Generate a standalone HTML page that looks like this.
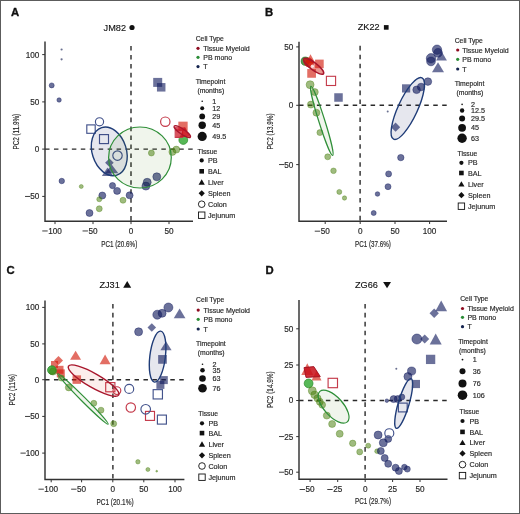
<!DOCTYPE html>
<html><head><meta charset="utf-8"><style>
html,body{margin:0;padding:0;background:#fff;}
body{width:520px;height:514px;overflow:hidden;}
svg{display:block;font-family:"Liberation Sans", sans-serif;will-change:transform;}
</style></head><body>
<svg width="520" height="514" viewBox="0 0 520 514">
<rect x="0" y="0" width="520" height="514" fill="#fff"/>
<text x="11.1" y="16.1" font-size="11.3" font-weight="bold" fill="#111" stroke="#111" stroke-width="0.35">A</text>
<text x="265.1" y="16.1" font-size="11.3" font-weight="bold" fill="#111" stroke="#111" stroke-width="0.35">B</text>
<text x="6.6" y="274.1" font-size="11.3" font-weight="bold" fill="#111" stroke="#111" stroke-width="0.35">C</text>
<text x="265.6" y="273.8" font-size="11.3" font-weight="bold" fill="#111" stroke="#111" stroke-width="0.35">D</text>
<text x="103.6" y="30.6" font-size="9.2" fill="#111" stroke="#111" stroke-width="0.12">JM82</text>
<circle cx="132" cy="27.5" r="2.6" fill="#111"/>
<text x="357.7" y="30.4" font-size="9.2" fill="#111" stroke="#111" stroke-width="0.12">ZK22</text>
<rect x="383.9" y="25.1" width="4.7" height="4.6" fill="#111"/>
<text x="99.4" y="287.7" font-size="9.2" fill="#111" stroke="#111" stroke-width="0.12">ZJ31</text>
<polygon points="127.2,281.1 131.2,287.7 123.2,287.7" fill="#111"/>
<text x="355" y="287.7" font-size="9.2" fill="#111" stroke="#111" stroke-width="0.12">ZG66</text>
<polygon points="383.1,281.9 391,281.9 387.05,288.2" fill="#111"/>
<line x1="131" y1="46" x2="131" y2="221.3" stroke="#2a2a2a" stroke-width="1.4" stroke-dasharray="4.6 4.35"/>
<line x1="45" y1="149.1" x2="193" y2="149.1" stroke="#2a2a2a" stroke-width="1.4" stroke-dasharray="4.5 4.45"/>
<path d="M45,41.5 V221.3 H193" fill="none" stroke="#333333" stroke-width="1.45"/>
<line x1="42.2" y1="54.6" x2="45" y2="54.6" stroke="#333333" stroke-width="1"/>
<text x="39.3" y="57.54" font-size="8.2" text-anchor="end" fill="#2b2b2b" stroke="#2b2b2b" stroke-width="0.18" >100</text>
<line x1="42.2" y1="101.9" x2="45" y2="101.9" stroke="#333333" stroke-width="1"/>
<text x="39.3" y="104.84" font-size="8.2" text-anchor="end" fill="#2b2b2b" stroke="#2b2b2b" stroke-width="0.18" >50</text>
<line x1="42.2" y1="149.1" x2="45" y2="149.1" stroke="#333333" stroke-width="1"/>
<text x="39.3" y="152.04" font-size="8.2" text-anchor="end" fill="#2b2b2b" stroke="#2b2b2b" stroke-width="0.18" >0</text>
<line x1="42.2" y1="196.4" x2="45" y2="196.4" stroke="#333333" stroke-width="1"/>
<text x="39.3" y="199.34" font-size="8.2" text-anchor="end" fill="#2b2b2b" stroke="#2b2b2b" stroke-width="0.18" >50</text>
<rect x="25.03" y="195.95" width="5.3" height="0.9" fill="#2b2b2b"/>
<line x1="55" y1="221.3" x2="55" y2="224.10000000000002" stroke="#333333" stroke-width="1"/>
<text x="55" y="233.9" font-size="8.2" text-anchor="middle" fill="#2b2b2b" stroke="#2b2b2b" stroke-width="0.18" >100</text>
<rect x="42.26" y="230.51" width="5.4" height="0.9" fill="#2b2b2b"/>
<line x1="93" y1="221.3" x2="93" y2="224.10000000000002" stroke="#333333" stroke-width="1"/>
<text x="93" y="233.9" font-size="8.2" text-anchor="middle" fill="#2b2b2b" stroke="#2b2b2b" stroke-width="0.18" >50</text>
<rect x="82.54" y="230.51" width="5.4" height="0.9" fill="#2b2b2b"/>
<line x1="131" y1="221.3" x2="131" y2="224.10000000000002" stroke="#333333" stroke-width="1"/>
<text x="131" y="233.9" font-size="8.2" text-anchor="middle" fill="#2b2b2b" stroke="#2b2b2b" stroke-width="0.18" >0</text>
<line x1="169" y1="221.3" x2="169" y2="224.10000000000002" stroke="#333333" stroke-width="1"/>
<text x="169" y="233.9" font-size="8.2" text-anchor="middle" fill="#2b2b2b" stroke="#2b2b2b" stroke-width="0.18" >50</text>
<text x="119.3" y="246.6" font-size="8.2" text-anchor="middle" fill="#2b2b2b" stroke="#2b2b2b" stroke-width="0.18" textLength="36" lengthAdjust="spacingAndGlyphs">PC1 (20.6%)</text>
<text x="0" y="0" font-size="8.2" text-anchor="middle" fill="#2b2b2b" stroke="#2b2b2b" stroke-width="0.15" textLength="35.8" lengthAdjust="spacingAndGlyphs" transform="translate(18.8,131.7) rotate(-90)">PC2 (11.9%)</text>
<circle cx="61.6" cy="49.5" r="1.1" fill="#6a7090"/>
<circle cx="61.6" cy="59.3" r="1.1" fill="#6a7090"/>
<circle cx="51.7" cy="85.4" r="2.5" fill="#141e5f" fill-opacity="0.63" stroke="#141e5f" stroke-opacity="0.63" stroke-width="0.7"/>
<circle cx="59.1" cy="100" r="2.2" fill="#141e5f" fill-opacity="0.63" stroke="#141e5f" stroke-opacity="0.63" stroke-width="0.7"/>
<circle cx="61.75" cy="181" r="2.75" fill="#141e5f" fill-opacity="0.63" stroke="#141e5f" stroke-opacity="0.63" stroke-width="0.7"/>
<circle cx="112.5" cy="185.6" r="3.1" fill="#141e5f" fill-opacity="0.63" stroke="#141e5f" stroke-opacity="0.63" stroke-width="0.7"/>
<circle cx="117.1" cy="190.9" r="3.5" fill="#141e5f" fill-opacity="0.63" stroke="#141e5f" stroke-opacity="0.63" stroke-width="0.7"/>
<circle cx="102.3" cy="195.5" r="3.5" fill="#141e5f" fill-opacity="0.63" stroke="#141e5f" stroke-opacity="0.63" stroke-width="0.7"/>
<circle cx="129.6" cy="195.3" r="3.5" fill="#141e5f" fill-opacity="0.63" stroke="#141e5f" stroke-opacity="0.63" stroke-width="0.7"/>
<circle cx="89.5" cy="213" r="3.5" fill="#141e5f" fill-opacity="0.63" stroke="#141e5f" stroke-opacity="0.63" stroke-width="0.7"/>
<circle cx="147.2" cy="182.3" r="4" fill="#141e5f" fill-opacity="0.63" stroke="#141e5f" stroke-opacity="0.63" stroke-width="0.7"/>
<circle cx="145.9" cy="186.1" r="4" fill="#141e5f" fill-opacity="0.63" stroke="#141e5f" stroke-opacity="0.63" stroke-width="0.7"/>
<circle cx="156.8" cy="176.8" r="4" fill="#141e5f" fill-opacity="0.63" stroke="#141e5f" stroke-opacity="0.63" stroke-width="0.7"/>
<circle cx="81.25" cy="186.5" r="2" fill="#467d0a" fill-opacity="0.52" stroke="#467d0a" stroke-opacity="0.52" stroke-width="0.7"/>
<circle cx="99.25" cy="199.25" r="2.5" fill="#467d0a" fill-opacity="0.52" stroke="#467d0a" stroke-opacity="0.52" stroke-width="0.7"/>
<circle cx="123" cy="200.25" r="3" fill="#467d0a" fill-opacity="0.52" stroke="#467d0a" stroke-opacity="0.52" stroke-width="0.7"/>
<circle cx="99.25" cy="208.75" r="3" fill="#467d0a" fill-opacity="0.52" stroke="#467d0a" stroke-opacity="0.52" stroke-width="0.7"/>
<circle cx="151.4" cy="153" r="3" fill="#467d0a" fill-opacity="0.52" stroke="#467d0a" stroke-opacity="0.52" stroke-width="0.7"/>
<circle cx="172.4" cy="151.9" r="3.5" fill="#467d0a" fill-opacity="0.52" stroke="#467d0a" stroke-opacity="0.52" stroke-width="0.7"/>
<circle cx="176.3" cy="149.6" r="3.5" fill="#467d0a" fill-opacity="0.52" stroke="#467d0a" stroke-opacity="0.52" stroke-width="0.7"/>
<rect x="153.20" y="77.90" width="9" height="9" fill="#141e5f" fill-opacity="0.63"/>
<rect x="156.95" y="83.05" width="8.5" height="8.5" fill="#141e5f" fill-opacity="0.63"/>
<polygon points="109.4,158.5 113.7,162.8 109.4,167.10000000000002 105.10000000000001,162.8" fill="#141e5f" fill-opacity="0.63"/>
<polygon points="111.7,164.4 118.30,173.3 105.10,173.3" fill="#141e5f" fill-opacity="0.63"/>
<polygon points="107.5,167.5 113.15,176.1 101.85,176.1" fill="#141e5f" fill-opacity="0.63"/>
<circle cx="99.5" cy="121.8" r="4.1" fill="none" stroke="#43538c" stroke-width="1.15"/>
<rect x="86.80" y="124.90" width="8.4" height="8.4" fill="none" stroke="#43538c" stroke-width="1.15"/>
<rect x="99.50" y="134.60" width="9" height="9" fill="none" stroke="#43538c" stroke-width="1.15"/>
<circle cx="117.5" cy="155.6" r="4.7" fill="none" stroke="#43538c" stroke-width="1.15"/>
<circle cx="183.3" cy="140" r="4.4" fill="#45b045" fill-opacity="0.9" stroke="#2a8a2a" stroke-width="0.7"/>
<circle cx="165.3" cy="121.7" r="4.7" fill="none" stroke="#c43a4a" stroke-width="1.2"/>
<rect x="178.35" y="121.65" width="9.3" height="9.3" fill="#d2190a" fill-opacity="0.63"/>
<rect x="175.20" y="130.00" width="7.4" height="7.4" fill="none" stroke="#c43a4a" stroke-width="1.1"/>
<polygon points="184.9,127.1 190.20,136.8 179.60,136.8" fill="#d2190a" fill-opacity="0.63"/>
<polygon points="174.4,126.4 181,127.6 185,127.2 190.4,136.8 175.8,137.2 175.6,130.5" fill="#cc1020" fill-opacity="0.72"/>
<ellipse cx="182.3" cy="131.6" rx="9.8" ry="2.6" transform="rotate(34 182.3 131.6)" fill="none" stroke="#a8162c" stroke-width="1.3"/>
<ellipse cx="109.25" cy="151.35" rx="17.07" ry="24.97" transform="rotate(-17.7 109.25 151.35)" fill="#141e5f" fill-opacity="0.105" stroke="#1f3c78" stroke-width="1.4"/>
<ellipse cx="139.95" cy="157.5" rx="31.35" ry="30.5" transform="rotate(0 139.95 157.5)" fill="#467d0a" fill-opacity="0.08" stroke="#2f8f38" stroke-width="1.2"/>
<text x="195.7" y="40.7" font-size="6.8" text-anchor="start" fill="#2b2b2b" stroke="#2b2b2b" stroke-width="0.18" >Cell Type</text>
<circle cx="198" cy="48.3" r="1.6" fill="#8e0c20"/>
<text x="203.3" y="50.849999999999994" font-size="7" text-anchor="start" fill="#2b2b2b" stroke="#2b2b2b" stroke-width="0.18" >Tissue Myeloid</text>
<circle cx="198" cy="57.3" r="1.6" fill="#2a8c36"/>
<text x="203.3" y="59.849999999999994" font-size="7" text-anchor="start" fill="#2b2b2b" stroke="#2b2b2b" stroke-width="0.18" >PB mono</text>
<circle cx="198" cy="66.6" r="1.6" fill="#14234e"/>
<text x="203.3" y="69.14999999999999" font-size="7" text-anchor="start" fill="#2b2b2b" stroke="#2b2b2b" stroke-width="0.18" >T</text>
<text x="195.7" y="83.8" font-size="6.8" text-anchor="start" fill="#2b2b2b" stroke="#2b2b2b" stroke-width="0.18" >Timepoint</text>
<text x="197.4" y="92.6" font-size="6.8" text-anchor="start" fill="#2b2b2b" stroke="#2b2b2b" stroke-width="0.18" >(months)</text>
<circle cx="202.2" cy="101.3" r="0.8" fill="#111"/>
<text x="212.3" y="103.89999999999999" font-size="7.2" text-anchor="start" fill="#2b2b2b" stroke="#2b2b2b" stroke-width="0.18" >1</text>
<circle cx="202.2" cy="108.2" r="2.0" fill="#111"/>
<text x="212.3" y="110.8" font-size="7.2" text-anchor="start" fill="#2b2b2b" stroke="#2b2b2b" stroke-width="0.18" >12</text>
<circle cx="202.2" cy="116.4" r="2.9" fill="#111"/>
<text x="212.3" y="119.0" font-size="7.2" text-anchor="start" fill="#2b2b2b" stroke="#2b2b2b" stroke-width="0.18" >29</text>
<circle cx="202.2" cy="125.3" r="3.7" fill="#111"/>
<text x="212.3" y="127.89999999999999" font-size="7.2" text-anchor="start" fill="#2b2b2b" stroke="#2b2b2b" stroke-width="0.18" >45</text>
<circle cx="202.2" cy="136.4" r="4.6" fill="#111"/>
<text x="212.3" y="139.0" font-size="7.2" text-anchor="start" fill="#2b2b2b" stroke="#2b2b2b" stroke-width="0.18" >49.5</text>
<text x="197.5" y="153.5" font-size="6.8" text-anchor="start" fill="#2b2b2b" stroke="#2b2b2b" stroke-width="0.18" >Tissue</text>
<circle cx="201.7" cy="160.4" r="2.1" fill="#111"/>
<text x="208" y="163.0" font-size="7.2" text-anchor="start" fill="#2b2b2b" stroke="#2b2b2b" stroke-width="0.18" >PB</text>
<rect x="199.39999999999998" y="169.0" width="4.6" height="4.6" fill="#111"/>
<text x="208" y="173.9" font-size="7.2" text-anchor="start" fill="#2b2b2b" stroke="#2b2b2b" stroke-width="0.18" >BAL</text>
<polygon points="201.7,179.3 204.79999999999998,184.70000000000002 198.6,184.70000000000002" fill="#111"/>
<text x="208" y="184.9" font-size="7.2" text-anchor="start" fill="#2b2b2b" stroke="#2b2b2b" stroke-width="0.18" >Liver</text>
<polygon points="201.7,190.20000000000002 204.79999999999998,193.3 201.7,196.4 198.6,193.3" fill="#111"/>
<text x="208" y="195.9" font-size="7.2" text-anchor="start" fill="#2b2b2b" stroke="#2b2b2b" stroke-width="0.18" >Spleen</text>
<circle cx="201.7" cy="204.2" r="3.3" fill="none" stroke="#111" stroke-width="0.9"/>
<text x="208" y="206.79999999999998" font-size="7.2" text-anchor="start" fill="#2b2b2b" stroke="#2b2b2b" stroke-width="0.18" >Colon</text>
<rect x="198.5" y="212.0" width="6.4" height="6.4" fill="none" stroke="#111" stroke-width="0.9"/>
<text x="208" y="217.79999999999998" font-size="7.2" text-anchor="start" fill="#2b2b2b" stroke="#2b2b2b" stroke-width="0.18" >Jejunum</text>
<line x1="360.1" y1="45.8" x2="360.1" y2="221.2" stroke="#2a2a2a" stroke-width="1.4" stroke-dasharray="4.6 4.35"/>
<line x1="299" y1="105.3" x2="447" y2="105.3" stroke="#2a2a2a" stroke-width="1.4" stroke-dasharray="4.5 4.45"/>
<path d="M299,41.7 V221.2 H447" fill="none" stroke="#333333" stroke-width="1.45"/>
<line x1="296.2" y1="46.9" x2="299" y2="46.9" stroke="#333333" stroke-width="1"/>
<text x="293.3" y="49.839999999999996" font-size="8.2" text-anchor="end" fill="#2b2b2b" stroke="#2b2b2b" stroke-width="0.18" >50</text>
<line x1="296.2" y1="105.3" x2="299" y2="105.3" stroke="#333333" stroke-width="1"/>
<text x="293.3" y="108.24" font-size="8.2" text-anchor="end" fill="#2b2b2b" stroke="#2b2b2b" stroke-width="0.18" >0</text>
<line x1="296.2" y1="164.6" x2="299" y2="164.6" stroke="#333333" stroke-width="1"/>
<text x="293.3" y="167.54" font-size="8.2" text-anchor="end" fill="#2b2b2b" stroke="#2b2b2b" stroke-width="0.18" >50</text>
<rect x="279.03" y="164.15" width="5.3" height="0.9" fill="#2b2b2b"/>
<line x1="325.2" y1="221.2" x2="325.2" y2="224.0" stroke="#333333" stroke-width="1"/>
<text x="325.2" y="234.1" font-size="8.2" text-anchor="middle" fill="#2b2b2b" stroke="#2b2b2b" stroke-width="0.18" >50</text>
<rect x="314.74" y="230.71" width="5.4" height="0.9" fill="#2b2b2b"/>
<line x1="360.2" y1="221.2" x2="360.2" y2="224.0" stroke="#333333" stroke-width="1"/>
<text x="360.2" y="234.1" font-size="8.2" text-anchor="middle" fill="#2b2b2b" stroke="#2b2b2b" stroke-width="0.18" >0</text>
<line x1="395" y1="221.2" x2="395" y2="224.0" stroke="#333333" stroke-width="1"/>
<text x="395" y="234.1" font-size="8.2" text-anchor="middle" fill="#2b2b2b" stroke="#2b2b2b" stroke-width="0.18" >50</text>
<line x1="429.6" y1="221.2" x2="429.6" y2="224.0" stroke="#333333" stroke-width="1"/>
<text x="429.6" y="234.1" font-size="8.2" text-anchor="middle" fill="#2b2b2b" stroke="#2b2b2b" stroke-width="0.18" >100</text>
<text x="373" y="246.8" font-size="8.2" text-anchor="middle" fill="#2b2b2b" stroke="#2b2b2b" stroke-width="0.18" textLength="35.8" lengthAdjust="spacingAndGlyphs">PC1 (37.6%)</text>
<text x="0" y="0" font-size="8.2" text-anchor="middle" fill="#2b2b2b" stroke="#2b2b2b" stroke-width="0.15" textLength="36.2" lengthAdjust="spacingAndGlyphs" transform="translate(272.9,131.5) rotate(-90)">PC2 (13.9%)</text>
<circle cx="305.3" cy="61.2" r="4.1" fill="#3a8a30" fill-opacity="0.85" stroke="#2a7a2a" stroke-width="0.8"/>
<polygon points="310.5,54.2 315.25,63 305.75,63" fill="#d2190a" fill-opacity="0.63"/>
<circle cx="308.3" cy="62.2" r="4.4" fill="#d2190a" fill-opacity="0.63" stroke="#d2190a" stroke-opacity="0.63" stroke-width="0.7"/>
<circle cx="309.5" cy="63.2" r="4.0" fill="#d2190a" fill-opacity="0.63" stroke="#d2190a" stroke-opacity="0.63" stroke-width="0.7"/>
<rect x="315.10" y="59.60" width="8.6" height="8.6" fill="#d2190a" fill-opacity="0.63"/>
<rect x="307.25" y="69.05" width="8.7" height="8.7" fill="#d2190a" fill-opacity="0.63"/>
<rect x="326.40" y="76.30" width="9.2" height="9.2" fill="none" stroke="#c43a4a" stroke-width="1.1"/>
<rect x="334.25" y="93.25" width="8.5" height="8.5" fill="#141e5f" fill-opacity="0.63"/>
<circle cx="310.1" cy="84.7" r="4" fill="#467d0a" fill-opacity="0.52" stroke="#467d0a" stroke-opacity="0.52" stroke-width="0.7"/>
<circle cx="314.8" cy="92.1" r="3.5" fill="#467d0a" fill-opacity="0.52" stroke="#467d0a" stroke-opacity="0.52" stroke-width="0.7"/>
<circle cx="310.9" cy="104.6" r="3.5" fill="#467d0a" fill-opacity="0.52" stroke="#467d0a" stroke-opacity="0.52" stroke-width="0.7"/>
<circle cx="316.4" cy="112.7" r="3.5" fill="#467d0a" fill-opacity="0.52" stroke="#467d0a" stroke-opacity="0.52" stroke-width="0.7"/>
<circle cx="319.9" cy="132.6" r="3" fill="#467d0a" fill-opacity="0.52" stroke="#467d0a" stroke-opacity="0.52" stroke-width="0.7"/>
<circle cx="327.7" cy="156.8" r="3" fill="#467d0a" fill-opacity="0.52" stroke="#467d0a" stroke-opacity="0.52" stroke-width="0.7"/>
<circle cx="333.5" cy="170.8" r="2.8" fill="#467d0a" fill-opacity="0.52" stroke="#467d0a" stroke-opacity="0.52" stroke-width="0.7"/>
<circle cx="339.3" cy="191.9" r="2.5" fill="#467d0a" fill-opacity="0.52" stroke="#467d0a" stroke-opacity="0.52" stroke-width="0.7"/>
<circle cx="344.5" cy="198" r="2.2" fill="#467d0a" fill-opacity="0.52" stroke="#467d0a" stroke-opacity="0.52" stroke-width="0.7"/>
<ellipse cx="313.6" cy="66.3" rx="12.4" ry="3.6" transform="rotate(37 313.6 66.3)" fill="#d2190a" fill-opacity="0.45" stroke="#a8162c" stroke-width="1.5"/>
<circle cx="312.3" cy="66.2" r="1.6" fill="#fff" fill-opacity="0.8"/>
<circle cx="437" cy="49.7" r="4.7" fill="#141e5f" fill-opacity="0.63" stroke="#141e5f" stroke-opacity="0.63" stroke-width="0.7"/>
<circle cx="438" cy="52.8" r="4.4" fill="#141e5f" fill-opacity="0.63" stroke="#141e5f" stroke-opacity="0.63" stroke-width="0.7"/>
<circle cx="431" cy="58.3" r="4.7" fill="#141e5f" fill-opacity="0.63" stroke="#141e5f" stroke-opacity="0.63" stroke-width="0.7"/>
<circle cx="431" cy="61.4" r="4.4" fill="#141e5f" fill-opacity="0.63" stroke="#141e5f" stroke-opacity="0.63" stroke-width="0.7"/>
<circle cx="416.6" cy="89.8" r="3.8" fill="#141e5f" fill-opacity="0.63" stroke="#141e5f" stroke-opacity="0.63" stroke-width="0.7"/>
<circle cx="421.1" cy="87" r="3.8" fill="#141e5f" fill-opacity="0.63" stroke="#141e5f" stroke-opacity="0.63" stroke-width="0.7"/>
<circle cx="427.9" cy="81.6" r="3.8" fill="#141e5f" fill-opacity="0.63" stroke="#141e5f" stroke-opacity="0.63" stroke-width="0.7"/>
<circle cx="400.8" cy="157.6" r="3.2" fill="#141e5f" fill-opacity="0.63" stroke="#141e5f" stroke-opacity="0.63" stroke-width="0.7"/>
<circle cx="388.6" cy="173.9" r="3" fill="#141e5f" fill-opacity="0.63" stroke="#141e5f" stroke-opacity="0.63" stroke-width="0.7"/>
<circle cx="388" cy="186.7" r="3" fill="#141e5f" fill-opacity="0.63" stroke="#141e5f" stroke-opacity="0.63" stroke-width="0.7"/>
<circle cx="377.5" cy="194" r="2.3" fill="#141e5f" fill-opacity="0.63" stroke="#141e5f" stroke-opacity="0.63" stroke-width="0.7"/>
<circle cx="373.7" cy="213" r="2.5" fill="#141e5f" fill-opacity="0.63" stroke="#141e5f" stroke-opacity="0.63" stroke-width="0.7"/>
<polygon points="441.5,51.3 446.95,60.6 436.05,60.6" fill="#141e5f" fill-opacity="0.63"/>
<polygon points="438,62.2 444.00,72.3 432.00,72.3" fill="#141e5f" fill-opacity="0.63"/>
<rect x="402.00" y="84.30" width="8.2" height="8.2" fill="#141e5f" fill-opacity="0.63"/>
<polygon points="395.6,122.60000000000001 400.20000000000005,127.2 395.6,131.8 391.0,127.2" fill="#141e5f" fill-opacity="0.63"/>
<circle cx="387.7" cy="111.6" r="1.0" fill="#6a7090"/>
<ellipse cx="407.8" cy="108.5" rx="9.71" ry="33.85" transform="rotate(24.8 407.8 108.5)" fill="#141e5f" fill-opacity="0.105" stroke="#1f3c78" stroke-width="1.4"/>
<ellipse cx="321.8" cy="120.9" rx="3.0" ry="36.3" transform="rotate(-17.5 321.8 120.9)" fill="#467d0a" fill-opacity="0.08" stroke="#2f8f38" stroke-width="1.2"/>
<text x="454.7" y="43.3" font-size="6.8" text-anchor="start" fill="#2b2b2b" stroke="#2b2b2b" stroke-width="0.18" >Cell Type</text>
<circle cx="457.7" cy="50.0" r="1.6" fill="#8e0c20"/>
<text x="462.3" y="52.55" font-size="7" text-anchor="start" fill="#2b2b2b" stroke="#2b2b2b" stroke-width="0.18" >Tissue Myeloid</text>
<circle cx="457.7" cy="59.3" r="1.6" fill="#2a8c36"/>
<text x="462.3" y="61.849999999999994" font-size="7" text-anchor="start" fill="#2b2b2b" stroke="#2b2b2b" stroke-width="0.18" >PB mono</text>
<circle cx="457.7" cy="69.0" r="1.6" fill="#14234e"/>
<text x="462.3" y="71.55" font-size="7" text-anchor="start" fill="#2b2b2b" stroke="#2b2b2b" stroke-width="0.18" >T</text>
<text x="454.7" y="85.8" font-size="6.8" text-anchor="start" fill="#2b2b2b" stroke="#2b2b2b" stroke-width="0.18" >Timepoint</text>
<text x="456.5" y="94.9" font-size="6.8" text-anchor="start" fill="#2b2b2b" stroke="#2b2b2b" stroke-width="0.18" >(months)</text>
<circle cx="462.1" cy="104.4" r="0.8" fill="#111"/>
<text x="471" y="107.0" font-size="7.2" text-anchor="start" fill="#2b2b2b" stroke="#2b2b2b" stroke-width="0.18" >2</text>
<circle cx="462.1" cy="110.5" r="2.2" fill="#111"/>
<text x="471" y="113.1" font-size="7.2" text-anchor="start" fill="#2b2b2b" stroke="#2b2b2b" stroke-width="0.18" >12.5</text>
<circle cx="462.1" cy="118.5" r="3.0" fill="#111"/>
<text x="471" y="121.1" font-size="7.2" text-anchor="start" fill="#2b2b2b" stroke="#2b2b2b" stroke-width="0.18" >29.5</text>
<circle cx="462.1" cy="127.8" r="3.9" fill="#111"/>
<text x="471" y="130.4" font-size="7.2" text-anchor="start" fill="#2b2b2b" stroke="#2b2b2b" stroke-width="0.18" >45</text>
<circle cx="462.1" cy="138.2" r="4.7" fill="#111"/>
<text x="471" y="140.79999999999998" font-size="7.2" text-anchor="start" fill="#2b2b2b" stroke="#2b2b2b" stroke-width="0.18" >63</text>
<text x="457.5" y="155.5" font-size="6.8" text-anchor="start" fill="#2b2b2b" stroke="#2b2b2b" stroke-width="0.18" >Tissue</text>
<circle cx="461.4" cy="162.8" r="2.1" fill="#111"/>
<text x="468" y="165.4" font-size="7.2" text-anchor="start" fill="#2b2b2b" stroke="#2b2b2b" stroke-width="0.18" >PB</text>
<rect x="459.09999999999997" y="170.7" width="4.6" height="4.6" fill="#111"/>
<text x="468" y="175.6" font-size="7.2" text-anchor="start" fill="#2b2b2b" stroke="#2b2b2b" stroke-width="0.18" >BAL</text>
<polygon points="461.4,181.2 464.5,186.6 458.29999999999995,186.6" fill="#111"/>
<text x="468" y="186.79999999999998" font-size="7.2" text-anchor="start" fill="#2b2b2b" stroke="#2b2b2b" stroke-width="0.18" >Liver</text>
<polygon points="461.4,192.1 464.5,195.2 461.4,198.29999999999998 458.29999999999995,195.2" fill="#111"/>
<text x="468" y="197.79999999999998" font-size="7.2" text-anchor="start" fill="#2b2b2b" stroke="#2b2b2b" stroke-width="0.18" >Spleen</text>
<rect x="458.2" y="203.0" width="6.4" height="6.4" fill="none" stroke="#111" stroke-width="0.9"/>
<text x="468" y="208.79999999999998" font-size="7.2" text-anchor="start" fill="#2b2b2b" stroke="#2b2b2b" stroke-width="0.18" >Jejunum</text>
<line x1="112.9" y1="303.9" x2="112.9" y2="479.5" stroke="#2a2a2a" stroke-width="1.4" stroke-dasharray="4.6 4.35"/>
<line x1="45" y1="379.7" x2="184.4" y2="379.7" stroke="#2a2a2a" stroke-width="1.4" stroke-dasharray="4.5 4.45"/>
<path d="M45,300.5 V479.5 H184.4" fill="none" stroke="#333333" stroke-width="1.45"/>
<line x1="42.2" y1="307.4" x2="45" y2="307.4" stroke="#333333" stroke-width="1"/>
<text x="39.3" y="310.34" font-size="8.2" text-anchor="end" fill="#2b2b2b" stroke="#2b2b2b" stroke-width="0.18" >100</text>
<line x1="42.2" y1="343.9" x2="45" y2="343.9" stroke="#333333" stroke-width="1"/>
<text x="39.3" y="346.84" font-size="8.2" text-anchor="end" fill="#2b2b2b" stroke="#2b2b2b" stroke-width="0.18" >50</text>
<line x1="42.2" y1="379.7" x2="45" y2="379.7" stroke="#333333" stroke-width="1"/>
<text x="39.3" y="382.64" font-size="8.2" text-anchor="end" fill="#2b2b2b" stroke="#2b2b2b" stroke-width="0.18" >0</text>
<line x1="42.2" y1="416.4" x2="45" y2="416.4" stroke="#333333" stroke-width="1"/>
<text x="39.3" y="419.34" font-size="8.2" text-anchor="end" fill="#2b2b2b" stroke="#2b2b2b" stroke-width="0.18" >50</text>
<rect x="25.03" y="415.95" width="5.3" height="0.9" fill="#2b2b2b"/>
<line x1="42.2" y1="453.1" x2="45" y2="453.1" stroke="#333333" stroke-width="1"/>
<text x="39.3" y="456.04" font-size="8.2" text-anchor="end" fill="#2b2b2b" stroke="#2b2b2b" stroke-width="0.18" >100</text>
<rect x="20.47" y="452.65" width="5.3" height="0.9" fill="#2b2b2b"/>
<line x1="51.2" y1="479.5" x2="51.2" y2="482.3" stroke="#333333" stroke-width="1"/>
<text x="51.2" y="492.1" font-size="8.2" text-anchor="middle" fill="#2b2b2b" stroke="#2b2b2b" stroke-width="0.18" >100</text>
<rect x="38.46" y="488.71" width="5.4" height="0.9" fill="#2b2b2b"/>
<line x1="81.6" y1="479.5" x2="81.6" y2="482.3" stroke="#333333" stroke-width="1"/>
<text x="81.6" y="492.1" font-size="8.2" text-anchor="middle" fill="#2b2b2b" stroke="#2b2b2b" stroke-width="0.18" >50</text>
<rect x="71.14" y="488.71" width="5.4" height="0.9" fill="#2b2b2b"/>
<line x1="112.8" y1="479.5" x2="112.8" y2="482.3" stroke="#333333" stroke-width="1"/>
<text x="112.8" y="492.1" font-size="8.2" text-anchor="middle" fill="#2b2b2b" stroke="#2b2b2b" stroke-width="0.18" >0</text>
<line x1="143.8" y1="479.5" x2="143.8" y2="482.3" stroke="#333333" stroke-width="1"/>
<text x="143.8" y="492.1" font-size="8.2" text-anchor="middle" fill="#2b2b2b" stroke="#2b2b2b" stroke-width="0.18" >50</text>
<line x1="175" y1="479.5" x2="175" y2="482.3" stroke="#333333" stroke-width="1"/>
<text x="175" y="492.1" font-size="8.2" text-anchor="middle" fill="#2b2b2b" stroke="#2b2b2b" stroke-width="0.18" >100</text>
<text x="115" y="505" font-size="8.2" text-anchor="middle" fill="#2b2b2b" stroke="#2b2b2b" stroke-width="0.18" textLength="37.2" lengthAdjust="spacingAndGlyphs">PC1 (20.1%)</text>
<text x="0" y="0" font-size="8.2" text-anchor="middle" fill="#2b2b2b" stroke="#2b2b2b" stroke-width="0.15" textLength="31.5" lengthAdjust="spacingAndGlyphs" transform="translate(14.8,389.7) rotate(-90)">PC2 (11%)</text>
<polygon points="75.6,350.7 81.10,359.8 70.10,359.8" fill="#d2190a" fill-opacity="0.63"/>
<polygon points="105.1,354.6 110.60,364.2 99.60,364.2" fill="#d2190a" fill-opacity="0.63"/>
<polygon points="58.5,355.9 63.0,360.4 58.5,364.9 54.0,360.4" fill="#d2190a" fill-opacity="0.63"/>
<rect x="51.00" y="361.00" width="7" height="7" fill="#d2190a" fill-opacity="0.63"/>
<rect x="55.50" y="365.80" width="8" height="8" fill="#d2190a" fill-opacity="0.63"/>
<rect x="56.80" y="369.40" width="8" height="8" fill="#d2190a" fill-opacity="0.63"/>
<rect x="72.55" y="375.35" width="8.5" height="8.5" fill="#d2190a" fill-opacity="0.63"/>
<rect x="105.70" y="382.60" width="9.2" height="9.2" fill="none" stroke="#c43a4a" stroke-width="1.15"/>
<circle cx="116.9" cy="390.6" r="3.9" fill="none" stroke="#c43a4a" stroke-width="1.15"/>
<circle cx="130.8" cy="407.5" r="4.7" fill="none" stroke="#c43a4a" stroke-width="1.15"/>
<rect x="145.50" y="411.40" width="9" height="9" fill="none" stroke="#c43a4a" stroke-width="1.15"/>
<circle cx="51.9" cy="370.1" r="4.3" fill="#3aaa3a" fill-opacity="0.9" stroke="#2a8a2a" stroke-width="0.8"/>
<circle cx="53" cy="371.5" r="3.6" fill="#467d0a" fill-opacity="0.52" stroke="#467d0a" stroke-opacity="0.52" stroke-width="0.7"/>
<circle cx="61.3" cy="378" r="3" fill="#467d0a" fill-opacity="0.52" stroke="#467d0a" stroke-opacity="0.52" stroke-width="0.7"/>
<circle cx="68.8" cy="387.4" r="3.5" fill="#467d0a" fill-opacity="0.52" stroke="#467d0a" stroke-opacity="0.52" stroke-width="0.7"/>
<circle cx="93.8" cy="403.3" r="3" fill="#467d0a" fill-opacity="0.52" stroke="#467d0a" stroke-opacity="0.52" stroke-width="0.7"/>
<circle cx="101" cy="410.2" r="3" fill="#467d0a" fill-opacity="0.52" stroke="#467d0a" stroke-opacity="0.52" stroke-width="0.7"/>
<circle cx="113.7" cy="423.7" r="3" fill="#467d0a" fill-opacity="0.52" stroke="#467d0a" stroke-opacity="0.52" stroke-width="0.7"/>
<circle cx="137.9" cy="461.8" r="2.2" fill="#467d0a" fill-opacity="0.52" stroke="#467d0a" stroke-opacity="0.52" stroke-width="0.7"/>
<circle cx="147.9" cy="469.5" r="2.0" fill="#467d0a" fill-opacity="0.52" stroke="#467d0a" stroke-opacity="0.52" stroke-width="0.7"/>
<circle cx="156.7" cy="471.2" r="0.9" fill="#467d0a" fill-opacity="0.52" stroke="#467d0a" stroke-opacity="0.52" stroke-width="0.7"/>
<circle cx="129.2" cy="388.9" r="4.5" fill="none" stroke="#43538c" stroke-width="1.15"/>
<circle cx="145.7" cy="409.3" r="4.8" fill="none" stroke="#43538c" stroke-width="1.15"/>
<rect x="153.15" y="389.65" width="9.3" height="9.3" fill="none" stroke="#43538c" stroke-width="1.15"/>
<rect x="157.40" y="415.10" width="9" height="9" fill="none" stroke="#43538c" stroke-width="1.15"/>
<rect x="158.15" y="355.05" width="8.7" height="8.7" fill="#141e5f" fill-opacity="0.63"/>
<rect x="159.80" y="376.10" width="8" height="8" fill="#141e5f" fill-opacity="0.63"/>
<rect x="156.40" y="380.90" width="8" height="8" fill="#141e5f" fill-opacity="0.63"/>
<circle cx="168.4" cy="307.5" r="4.5" fill="#141e5f" fill-opacity="0.63" stroke="#141e5f" stroke-opacity="0.63" stroke-width="0.7"/>
<circle cx="162.1" cy="313.3" r="4" fill="#141e5f" fill-opacity="0.63" stroke="#141e5f" stroke-opacity="0.63" stroke-width="0.7"/>
<circle cx="157.3" cy="314.7" r="4.5" fill="#141e5f" fill-opacity="0.63" stroke="#141e5f" stroke-opacity="0.63" stroke-width="0.7"/>
<circle cx="138.6" cy="331.8" r="4" fill="#141e5f" fill-opacity="0.63" stroke="#141e5f" stroke-opacity="0.63" stroke-width="0.7"/>
<polygon points="179.6,308.5 185.45,318.2 173.75,318.2" fill="#141e5f" fill-opacity="0.63"/>
<polygon points="166,341.3 171.60,350.2 160.40,350.2" fill="#141e5f" fill-opacity="0.63"/>
<polygon points="151.8,323.2 156.10000000000002,327.5 151.8,331.8 147.5,327.5" fill="#141e5f" fill-opacity="0.63"/>
<ellipse cx="157.6" cy="356.6" rx="7.76" ry="25.67" transform="rotate(6.9 157.6 356.6)" fill="#141e5f" fill-opacity="0.105" stroke="#1f3c78" stroke-width="1.4"/>
<ellipse cx="93.6" cy="380.6" rx="28.96" ry="7.0" transform="rotate(29.8 93.6 380.6)" fill="#d9402f" fill-opacity="0.09" stroke="#a8162c" stroke-width="1.4"/>
<ellipse cx="82.95" cy="398.95" rx="35.7" ry="2.2" transform="rotate(45 82.95 398.95)" fill="#467d0a" fill-opacity="0.08" stroke="#2f8f38" stroke-width="1.2"/>
<text x="196.1" y="302.3" font-size="6.8" text-anchor="start" fill="#2b2b2b" stroke="#2b2b2b" stroke-width="0.18" >Cell Type</text>
<circle cx="198.2" cy="310.1" r="1.6" fill="#8e0c20"/>
<text x="203.6" y="312.65000000000003" font-size="7" text-anchor="start" fill="#2b2b2b" stroke="#2b2b2b" stroke-width="0.18" >Tissue Myeloid</text>
<circle cx="198.2" cy="319.3" r="1.6" fill="#2a8c36"/>
<text x="203.6" y="321.85" font-size="7" text-anchor="start" fill="#2b2b2b" stroke="#2b2b2b" stroke-width="0.18" >PB mono</text>
<circle cx="198.2" cy="329.0" r="1.6" fill="#14234e"/>
<text x="203.6" y="331.55" font-size="7" text-anchor="start" fill="#2b2b2b" stroke="#2b2b2b" stroke-width="0.18" >T</text>
<text x="196.1" y="345.5" font-size="6.8" text-anchor="start" fill="#2b2b2b" stroke="#2b2b2b" stroke-width="0.18" >Timepoint</text>
<text x="197.8" y="354.9" font-size="6.8" text-anchor="start" fill="#2b2b2b" stroke="#2b2b2b" stroke-width="0.18" >(months)</text>
<circle cx="202.5" cy="364.3" r="0.8" fill="#111"/>
<text x="212.5" y="366.90000000000003" font-size="7.2" text-anchor="start" fill="#2b2b2b" stroke="#2b2b2b" stroke-width="0.18" >2</text>
<circle cx="202.5" cy="370.3" r="2.3" fill="#111"/>
<text x="212.5" y="372.90000000000003" font-size="7.2" text-anchor="start" fill="#2b2b2b" stroke="#2b2b2b" stroke-width="0.18" >35</text>
<circle cx="202.5" cy="378.5" r="3.3" fill="#111"/>
<text x="212.5" y="381.1" font-size="7.2" text-anchor="start" fill="#2b2b2b" stroke="#2b2b2b" stroke-width="0.18" >63</text>
<circle cx="202.5" cy="388.2" r="4.3" fill="#111"/>
<text x="212.5" y="390.8" font-size="7.2" text-anchor="start" fill="#2b2b2b" stroke="#2b2b2b" stroke-width="0.18" >76</text>
<text x="198.3" y="415.6" font-size="6.8" text-anchor="start" fill="#2b2b2b" stroke="#2b2b2b" stroke-width="0.18" >Tissue</text>
<circle cx="202" cy="423.3" r="2.1" fill="#111"/>
<text x="208.4" y="425.90000000000003" font-size="7.2" text-anchor="start" fill="#2b2b2b" stroke="#2b2b2b" stroke-width="0.18" >PB</text>
<rect x="199.7" y="430.8" width="4.6" height="4.6" fill="#111"/>
<text x="208.4" y="435.70000000000005" font-size="7.2" text-anchor="start" fill="#2b2b2b" stroke="#2b2b2b" stroke-width="0.18" >BAL</text>
<polygon points="202,441.3 205.1,446.7 198.9,446.7" fill="#111"/>
<text x="208.4" y="446.90000000000003" font-size="7.2" text-anchor="start" fill="#2b2b2b" stroke="#2b2b2b" stroke-width="0.18" >Liver</text>
<polygon points="202,452.2 205.1,455.3 202,458.40000000000003 198.9,455.3" fill="#111"/>
<text x="208.4" y="457.90000000000003" font-size="7.2" text-anchor="start" fill="#2b2b2b" stroke="#2b2b2b" stroke-width="0.18" >Spleen</text>
<circle cx="202" cy="466" r="3.3" fill="none" stroke="#111" stroke-width="0.9"/>
<text x="208.4" y="468.6" font-size="7.2" text-anchor="start" fill="#2b2b2b" stroke="#2b2b2b" stroke-width="0.18" >Colon</text>
<rect x="198.8" y="474.0" width="6.4" height="6.4" fill="none" stroke="#111" stroke-width="0.9"/>
<text x="208.4" y="479.8" font-size="7.2" text-anchor="start" fill="#2b2b2b" stroke="#2b2b2b" stroke-width="0.18" >Jejunum</text>
<line x1="365.1" y1="303.9" x2="365.1" y2="479.2" stroke="#2a2a2a" stroke-width="1.4" stroke-dasharray="4.6 4.35"/>
<line x1="299" y1="400.5" x2="447.5" y2="400.5" stroke="#2a2a2a" stroke-width="1.4" stroke-dasharray="4.5 4.45"/>
<path d="M299,300 V479.2 H447.5" fill="none" stroke="#333333" stroke-width="1.45"/>
<line x1="296.2" y1="328.8" x2="299" y2="328.8" stroke="#333333" stroke-width="1"/>
<text x="293.3" y="331.74" font-size="8.2" text-anchor="end" fill="#2b2b2b" stroke="#2b2b2b" stroke-width="0.18" >50</text>
<line x1="296.2" y1="365" x2="299" y2="365" stroke="#333333" stroke-width="1"/>
<text x="293.3" y="367.94" font-size="8.2" text-anchor="end" fill="#2b2b2b" stroke="#2b2b2b" stroke-width="0.18" >25</text>
<line x1="296.2" y1="400.5" x2="299" y2="400.5" stroke="#333333" stroke-width="1"/>
<text x="293.3" y="403.44" font-size="8.2" text-anchor="end" fill="#2b2b2b" stroke="#2b2b2b" stroke-width="0.18" >0</text>
<line x1="296.2" y1="436.6" x2="299" y2="436.6" stroke="#333333" stroke-width="1"/>
<text x="293.3" y="439.54" font-size="8.2" text-anchor="end" fill="#2b2b2b" stroke="#2b2b2b" stroke-width="0.18" >25</text>
<rect x="279.03" y="436.15" width="5.3" height="0.9" fill="#2b2b2b"/>
<line x1="296.2" y1="472.2" x2="299" y2="472.2" stroke="#333333" stroke-width="1"/>
<text x="293.3" y="475.14" font-size="8.2" text-anchor="end" fill="#2b2b2b" stroke="#2b2b2b" stroke-width="0.18" >50</text>
<rect x="279.03" y="471.75" width="5.3" height="0.9" fill="#2b2b2b"/>
<line x1="310.1" y1="479.2" x2="310.1" y2="482.0" stroke="#333333" stroke-width="1"/>
<text x="310.1" y="492.4" font-size="8.2" text-anchor="middle" fill="#2b2b2b" stroke="#2b2b2b" stroke-width="0.18" >50</text>
<rect x="299.64" y="489.01" width="5.4" height="0.9" fill="#2b2b2b"/>
<line x1="337.7" y1="479.2" x2="337.7" y2="482.0" stroke="#333333" stroke-width="1"/>
<text x="337.7" y="492.4" font-size="8.2" text-anchor="middle" fill="#2b2b2b" stroke="#2b2b2b" stroke-width="0.18" >25</text>
<rect x="327.24" y="489.01" width="5.4" height="0.9" fill="#2b2b2b"/>
<line x1="365.2" y1="479.2" x2="365.2" y2="482.0" stroke="#333333" stroke-width="1"/>
<text x="365.2" y="492.4" font-size="8.2" text-anchor="middle" fill="#2b2b2b" stroke="#2b2b2b" stroke-width="0.18" >0</text>
<line x1="392.6" y1="479.2" x2="392.6" y2="482.0" stroke="#333333" stroke-width="1"/>
<text x="392.6" y="492.4" font-size="8.2" text-anchor="middle" fill="#2b2b2b" stroke="#2b2b2b" stroke-width="0.18" >25</text>
<line x1="420" y1="479.2" x2="420" y2="482.0" stroke="#333333" stroke-width="1"/>
<text x="420" y="492.4" font-size="8.2" text-anchor="middle" fill="#2b2b2b" stroke="#2b2b2b" stroke-width="0.18" >50</text>
<text x="373" y="504" font-size="8.2" text-anchor="middle" fill="#2b2b2b" stroke="#2b2b2b" stroke-width="0.18" textLength="36" lengthAdjust="spacingAndGlyphs">PC1 (29.7%)</text>
<text x="0" y="0" font-size="8.2" text-anchor="middle" fill="#2b2b2b" stroke="#2b2b2b" stroke-width="0.15" textLength="36.8" lengthAdjust="spacingAndGlyphs" transform="translate(273.1,389.7) rotate(-90)">PC2 (14.9%)</text>
<polygon points="307.3,363.3 313.30,375 301.30,375" fill="#d2190a" fill-opacity="0.63"/>
<polygon points="316.5,370.5 321.50,380.5 311.50,380.5" fill="#d2190a" fill-opacity="0.63"/>
<polygon points="304,367.6 313.8,366.6 320.3,376.6 306,377.4" fill="#c8141e" fill-opacity="0.88" stroke="#9e1020" stroke-width="0.9" stroke-linejoin="round"/>
<rect x="328.10" y="378.30" width="9.4" height="9.4" fill="none" stroke="#c43a4a" stroke-width="1.15"/>
<circle cx="308.6" cy="383.4" r="4.4" fill="#45b045" fill-opacity="0.9" stroke="#2a8a2a" stroke-width="0.7"/>
<circle cx="312.3" cy="390.8" r="4" fill="#467d0a" fill-opacity="0.52" stroke="#467d0a" stroke-opacity="0.52" stroke-width="0.7"/>
<circle cx="314.6" cy="394.8" r="3.8" fill="#467d0a" fill-opacity="0.52" stroke="#467d0a" stroke-opacity="0.52" stroke-width="0.7"/>
<circle cx="317.5" cy="398.3" r="3.6" fill="#467d0a" fill-opacity="0.52" stroke="#467d0a" stroke-opacity="0.52" stroke-width="0.7"/>
<circle cx="319.8" cy="401.8" r="3.5" fill="#467d0a" fill-opacity="0.52" stroke="#467d0a" stroke-opacity="0.52" stroke-width="0.7"/>
<circle cx="322.2" cy="404.8" r="3.4" fill="#467d0a" fill-opacity="0.52" stroke="#467d0a" stroke-opacity="0.52" stroke-width="0.7"/>
<circle cx="326.8" cy="415.6" r="3.5" fill="#467d0a" fill-opacity="0.52" stroke="#467d0a" stroke-opacity="0.52" stroke-width="0.7"/>
<circle cx="332.1" cy="424" r="3.5" fill="#467d0a" fill-opacity="0.52" stroke="#467d0a" stroke-opacity="0.52" stroke-width="0.7"/>
<circle cx="339.7" cy="433.8" r="3.5" fill="#467d0a" fill-opacity="0.52" stroke="#467d0a" stroke-opacity="0.52" stroke-width="0.7"/>
<circle cx="352.7" cy="443.3" r="3.2" fill="#467d0a" fill-opacity="0.52" stroke="#467d0a" stroke-opacity="0.52" stroke-width="0.7"/>
<circle cx="359.7" cy="451.9" r="3" fill="#467d0a" fill-opacity="0.52" stroke="#467d0a" stroke-opacity="0.52" stroke-width="0.7"/>
<circle cx="368.2" cy="445.7" r="2.5" fill="#467d0a" fill-opacity="0.52" stroke="#467d0a" stroke-opacity="0.52" stroke-width="0.7"/>
<circle cx="377.1" cy="451.2" r="2.4" fill="#467d0a" fill-opacity="0.52" stroke="#467d0a" stroke-opacity="0.52" stroke-width="0.7"/>
<ellipse cx="333.6" cy="406.6" rx="20.5" ry="9.5" transform="rotate(48 333.6 406.6)" fill="#467d0a" fill-opacity="0.08" stroke="#2f8f38" stroke-width="1.2"/>
<circle cx="416.9" cy="339" r="5" fill="#141e5f" fill-opacity="0.63" stroke="#141e5f" stroke-opacity="0.63" stroke-width="0.7"/>
<circle cx="411.6" cy="371.1" r="4.1" fill="#141e5f" fill-opacity="0.63" stroke="#141e5f" stroke-opacity="0.63" stroke-width="0.7"/>
<circle cx="407.9" cy="376.6" r="4" fill="#141e5f" fill-opacity="0.63" stroke="#141e5f" stroke-opacity="0.63" stroke-width="0.7"/>
<circle cx="386.8" cy="400.7" r="1.8" fill="#141e5f" fill-opacity="0.63" stroke="#141e5f" stroke-opacity="0.63" stroke-width="0.7"/>
<circle cx="393.6" cy="399.1" r="3.5" fill="#141e5f" fill-opacity="0.63" stroke="#141e5f" stroke-opacity="0.63" stroke-width="0.7"/>
<circle cx="397.7" cy="399.1" r="3.5" fill="#141e5f" fill-opacity="0.63" stroke="#141e5f" stroke-opacity="0.63" stroke-width="0.7"/>
<circle cx="401.8" cy="397" r="3" fill="#141e5f" fill-opacity="0.63" stroke="#141e5f" stroke-opacity="0.63" stroke-width="0.7"/>
<circle cx="378.1" cy="435" r="4" fill="#141e5f" fill-opacity="0.63" stroke="#141e5f" stroke-opacity="0.63" stroke-width="0.7"/>
<circle cx="388.2" cy="438.9" r="3.5" fill="#141e5f" fill-opacity="0.63" stroke="#141e5f" stroke-opacity="0.63" stroke-width="0.7"/>
<circle cx="383.3" cy="442.8" r="4" fill="#141e5f" fill-opacity="0.63" stroke="#141e5f" stroke-opacity="0.63" stroke-width="0.7"/>
<circle cx="380.8" cy="451" r="3.5" fill="#141e5f" fill-opacity="0.63" stroke="#141e5f" stroke-opacity="0.63" stroke-width="0.7"/>
<circle cx="384.7" cy="458" r="3.5" fill="#141e5f" fill-opacity="0.63" stroke="#141e5f" stroke-opacity="0.63" stroke-width="0.7"/>
<circle cx="388.2" cy="463.8" r="3.5" fill="#141e5f" fill-opacity="0.63" stroke="#141e5f" stroke-opacity="0.63" stroke-width="0.7"/>
<circle cx="395.6" cy="467.7" r="3.5" fill="#141e5f" fill-opacity="0.63" stroke="#141e5f" stroke-opacity="0.63" stroke-width="0.7"/>
<circle cx="398.9" cy="471" r="3.5" fill="#141e5f" fill-opacity="0.63" stroke="#141e5f" stroke-opacity="0.63" stroke-width="0.7"/>
<circle cx="404.4" cy="467.1" r="2.8" fill="#141e5f" fill-opacity="0.63" stroke="#141e5f" stroke-opacity="0.63" stroke-width="0.7"/>
<circle cx="407.3" cy="469.1" r="3" fill="#141e5f" fill-opacity="0.63" stroke="#141e5f" stroke-opacity="0.63" stroke-width="0.7"/>
<polygon points="424.7,334.5 429.2,339 424.7,343.5 420.2,339" fill="#141e5f" fill-opacity="0.63"/>
<polygon points="434.2,308.6 438.9,313.3 434.2,318.0 429.5,313.3" fill="#141e5f" fill-opacity="0.63"/>
<polygon points="435.7,333.6 441.70,344.5 429.70,344.5" fill="#141e5f" fill-opacity="0.63"/>
<polygon points="441.2,300.6 447.05,311.3 435.35,311.3" fill="#141e5f" fill-opacity="0.63"/>
<rect x="425.95" y="354.75" width="9.3" height="9.3" fill="#141e5f" fill-opacity="0.63"/>
<rect x="411.80" y="379.90" width="8.2" height="8.2" fill="#141e5f" fill-opacity="0.63"/>
<circle cx="396.3" cy="368.8" r="1.0" fill="#6a7090"/>
<rect x="398.40" y="403.10" width="8.8" height="8.8" fill="none" stroke="#43538c" stroke-width="1.15"/>
<circle cx="389.3" cy="433.2" r="4.5" fill="none" stroke="#43538c" stroke-width="1.15"/>
<ellipse cx="403.7" cy="403.5" rx="5.4" ry="25.9" transform="rotate(16.45 403.7 403.5)" fill="#141e5f" fill-opacity="0.105" stroke="#1f3c78" stroke-width="1.4"/>
<text x="460.2" y="300.6" font-size="6.8" text-anchor="start" fill="#2b2b2b" stroke="#2b2b2b" stroke-width="0.18" >Cell Type</text>
<circle cx="462.5" cy="308.5" r="1.6" fill="#8e0c20"/>
<text x="467.4" y="311.05" font-size="7" text-anchor="start" fill="#2b2b2b" stroke="#2b2b2b" stroke-width="0.18" >Tissue Myeloid</text>
<circle cx="462.5" cy="317.3" r="1.6" fill="#2a8c36"/>
<text x="467.4" y="319.85" font-size="7" text-anchor="start" fill="#2b2b2b" stroke="#2b2b2b" stroke-width="0.18" >PB mono</text>
<circle cx="462.5" cy="326.7" r="1.6" fill="#14234e"/>
<text x="467.4" y="329.25" font-size="7" text-anchor="start" fill="#2b2b2b" stroke="#2b2b2b" stroke-width="0.18" >T</text>
<text x="458.2" y="344.3" font-size="6.8" text-anchor="start" fill="#2b2b2b" stroke="#2b2b2b" stroke-width="0.18" >Timepoint</text>
<text x="459" y="353.1" font-size="6.8" text-anchor="start" fill="#2b2b2b" stroke="#2b2b2b" stroke-width="0.18" >(months)</text>
<circle cx="462.5" cy="359.6" r="0.9" fill="#111"/>
<text x="472.8" y="362.20000000000005" font-size="7.2" text-anchor="start" fill="#2b2b2b" stroke="#2b2b2b" stroke-width="0.18" >1</text>
<circle cx="462.5" cy="371.3" r="3.0" fill="#111"/>
<text x="472.8" y="373.90000000000003" font-size="7.2" text-anchor="start" fill="#2b2b2b" stroke="#2b2b2b" stroke-width="0.18" >36</text>
<circle cx="462.5" cy="383.5" r="4.0" fill="#111"/>
<text x="472.8" y="386.1" font-size="7.2" text-anchor="start" fill="#2b2b2b" stroke="#2b2b2b" stroke-width="0.18" >76</text>
<circle cx="462.5" cy="395.2" r="4.8" fill="#111"/>
<text x="472.8" y="397.8" font-size="7.2" text-anchor="start" fill="#2b2b2b" stroke="#2b2b2b" stroke-width="0.18" >106</text>
<text x="459.5" y="414" font-size="6.8" text-anchor="start" fill="#2b2b2b" stroke="#2b2b2b" stroke-width="0.18" >Tissue</text>
<circle cx="462.5" cy="421" r="2.1" fill="#111"/>
<text x="469.5" y="423.6" font-size="7.2" text-anchor="start" fill="#2b2b2b" stroke="#2b2b2b" stroke-width="0.18" >PB</text>
<rect x="460.2" y="429.59999999999997" width="4.6" height="4.6" fill="#111"/>
<text x="469.5" y="434.5" font-size="7.2" text-anchor="start" fill="#2b2b2b" stroke="#2b2b2b" stroke-width="0.18" >BAL</text>
<polygon points="462.5,439.7 465.6,445.09999999999997 459.4,445.09999999999997" fill="#111"/>
<text x="469.5" y="445.3" font-size="7.2" text-anchor="start" fill="#2b2b2b" stroke="#2b2b2b" stroke-width="0.18" >Liver</text>
<polygon points="462.5,450.29999999999995 465.6,453.4 462.5,456.5 459.4,453.4" fill="#111"/>
<text x="469.5" y="456.0" font-size="7.2" text-anchor="start" fill="#2b2b2b" stroke="#2b2b2b" stroke-width="0.18" >Spleen</text>
<circle cx="462.5" cy="464.6" r="3.3" fill="none" stroke="#111" stroke-width="0.9"/>
<text x="469.5" y="467.20000000000005" font-size="7.2" text-anchor="start" fill="#2b2b2b" stroke="#2b2b2b" stroke-width="0.18" >Colon</text>
<rect x="459.3" y="472.40000000000003" width="6.4" height="6.4" fill="none" stroke="#111" stroke-width="0.9"/>
<text x="469.5" y="478.20000000000005" font-size="7.2" text-anchor="start" fill="#2b2b2b" stroke="#2b2b2b" stroke-width="0.18" >Jejunum</text>
<rect x="0.5" y="0.5" width="519" height="513" fill="none" stroke="#5c5c5c" stroke-width="1"/>
</svg>
</body></html>
